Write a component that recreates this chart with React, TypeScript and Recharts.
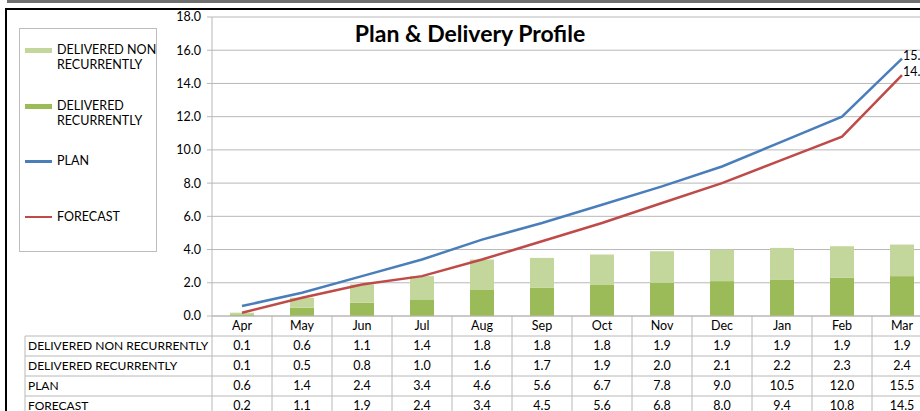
import React from "react";
import {
  ComposedChart,
  Bar,
  Line,
  XAxis,
  YAxis,
  CartesianGrid,
} from "recharts";

// months (financial year)
const months = ["Apr", "May", "Jun", "Jul", "Aug", "Sep", "Oct", "Nov", "Dec", "Jan", "Feb", "Mar"];
const deliveredNonRecurrently = [0.1, 0.6, 1.1, 1.4, 1.8, 1.8, 1.8, 1.9, 1.9, 1.9, 1.9, 1.9];
const deliveredRecurrently = [0.1, 0.5, 0.8, 1.0, 1.6, 1.7, 1.9, 2.0, 2.1, 2.2, 2.3, 2.4];
const plan = [0.6, 1.4, 2.4, 3.4, 4.6, 5.6, 6.7, 7.8, 9.0, 10.5, 12.0, 15.5];
const forecast = [0.2, 1.1, 1.9, 2.4, 3.4, 4.5, 5.6, 6.8, 8.0, 9.4, 10.8, 14.5];
const yTicks = [0, 2, 4, 6, 8, 10, 12, 14, 16, 18];

const LIGHT_GREEN = "#c3d69b";
const DARK_GREEN = "#9bbb59";
const BLUE = "#4a7ebb";
const RED = "#be4b48";
const GRID = "#b8b8b8";
const FONT = "Lato, 'Open Sans', sans-serif";

const data = months.map((m, i) => ({
  month: m,
  nonRec: deliveredNonRecurrently[i],
  rec: deliveredRecurrently[i],
  plan: plan[i],
  forecast: forecast[i],
}));

// rows of the data table under the chart
const tableRows = [
  { label: "DELIVERED NON RECURRENTLY", values: deliveredNonRecurrently },
  { label: "DELIVERED RECURRENTLY", values: deliveredRecurrently },
  { label: "PLAN", values: plan },
  { label: "FORECAST", values: forecast },
];

const HALF_BAND = 30;
const ROW_H = 20;
const HEADER_LEFT = 25;

const TableTick = (props: any) => {
  const { x, y, payload, index } = props;
  const left = x - HALF_BAND;
  const right = x + HALF_BAND;
  return (
    <g fontFamily={FONT} fontSize={12.5} fill="#000">
      {index === 0 && (
        <g>
          <line x1={left} x2={left} y1={y} y2={y + 100} stroke={GRID} />
          <line x1={HEADER_LEFT} x2={HEADER_LEFT} y1={y + ROW_H} y2={y + 100} stroke={GRID} />
          {tableRows.map((r, i) => (
            <g key={r.label}>
              <line x1={HEADER_LEFT} x2={left} y1={y + ROW_H * (i + 1)} y2={y + ROW_H * (i + 1)} stroke={GRID} />
              <text x={HEADER_LEFT + 3} y={y + ROW_H * (i + 1) + 14} fill="#000" fontSize={12}>
                {r.label}
              </text>
            </g>
          ))}
        </g>
      )}
      <line x1={right} x2={right} y1={y} y2={y + 100} stroke={GRID} />
      <text x={x} y={y + 14} textAnchor="middle" fill="#000">
        {payload.value}
      </text>
      {tableRows.map((r, i) => (
        <g key={r.label}>
          <line x1={left} x2={right} y1={y + ROW_H * (i + 1)} y2={y + ROW_H * (i + 1)} stroke={GRID} />
          <text x={x} y={y + ROW_H * (i + 1) + 14} textAnchor="middle" fill="#000">
            {r.values[index].toFixed(1)}
          </text>
        </g>
      ))}
    </g>
  );
};

const legendItems = [
  { label: ["DELIVERED NON", "RECURRENTLY"], color: LIGHT_GREEN, kind: "bar" },
  { label: ["DELIVERED", "RECURRENTLY"], color: DARK_GREEN, kind: "bar" },
  { label: ["PLAN"], color: BLUE, kind: "line" },
  { label: ["FORECAST"], color: RED, kind: "line" },
];

const ChartLegend = () => (
  <div
    style={{
      position: "absolute",
      left: 19,
      top: 28,
      width: 136,
      height: 222,
      border: "1px solid #bdbdbd",
      fontFamily: FONT,
      fontSize: 12.5,
      color: "#000",
    }}
  >
    {legendItems.map((item, i) => (
      <div key={i} style={{ position: "absolute", left: 5, top: 13 + i * 55.5 }}>
        <div
          style={{
            position: "absolute",
            left: 0,
            top: item.kind === "bar" ? 6 : 7,
            width: 27,
            height: item.kind === "bar" ? 5 : 2.5,
            background: item.color,
          }}
        />
        <div style={{ position: "absolute", left: 32, top: 0, lineHeight: "15px", whiteSpace: "nowrap" }}>
          {item.label.map((l) => (
            <div key={l}>{l}</div>
          ))}
        </div>
      </div>
    ))}
  </div>
);

const endLabel = (p: any) => {
  if (p.index !== months.length - 1) return <g />;
  return (
    <text x={p.x + 1} y={p.y + 1} fontFamily={FONT} fontSize={12.5} fill="#000">
      {Number(p.value).toFixed(1)}
    </text>
  );
};

const App = () => {
  return (
    <div
      style={{
        position: "absolute",
        left: 0,
        top: 0,
        width: 920,
        height: 411,
        overflow: "hidden",
        background: "#fff",
      }}
    >
      {/* frame lines */}
      <div style={{ position: "absolute", left: 7, top: 0, right: 0, height: 3, background: "#6f6f6f" }} />
      <div style={{ position: "absolute", left: 5, top: 8, right: 0, height: 2, background: "#000" }} />
      <div style={{ position: "absolute", left: 5, top: 8, width: 2, bottom: 0, background: "#000" }} />

      <div style={{ position: "absolute", left: 0, top: 0 }}>
        <ComposedChart
          width={940}
          height={411}
          data={data}
          margin={{ top: 17, right: 8, bottom: 0, left: 150 }}
        >
          <CartesianGrid vertical={false} stroke={GRID} />
          <XAxis
            dataKey="month"
            height={95}
            interval={0}
            tickLine={false}
            tickSize={0}
            tickMargin={0}
            axisLine={{ stroke: GRID }}
            tick={<TableTick />}
          />
          <YAxis
            width={62}
            domain={[0, 18]}
            ticks={yTicks}
            tickFormatter={(v: number) => v.toFixed(1)}
            tickSize={5}
            tickMargin={6}
            axisLine={{ stroke: GRID }}
            tickLine={{ stroke: GRID }}
            tick={{ fill: "#000", fontSize: 12.5, fontFamily: FONT }}
          />
          <Bar dataKey="rec" stackId="d" fill={DARK_GREEN} barSize={24} isAnimationActive={false} />
          <Bar dataKey="nonRec" stackId="d" fill={LIGHT_GREEN} barSize={24} isAnimationActive={false} />
          <Line
            dataKey="plan"
            stroke={BLUE}
            strokeWidth={2.5}
            dot={false}
            type="linear"
            label={endLabel}
            isAnimationActive={false}
          />
          <Line
            dataKey="forecast"
            stroke={RED}
            strokeWidth={2.5}
            dot={false}
            type="linear"
            label={endLabel}
            isAnimationActive={false}
          />
        </ComposedChart>
      </div>

      <ChartLegend />

      <div
        style={{
          position: "absolute",
          left: 300,
          top: 19,
          width: 340,
          textAlign: "center",
          fontFamily: FONT,
          fontWeight: 700,
          fontSize: 23,
        }}
      >
        Plan &amp; Delivery Profile
      </div>
    </div>
  );
};

export default App;
